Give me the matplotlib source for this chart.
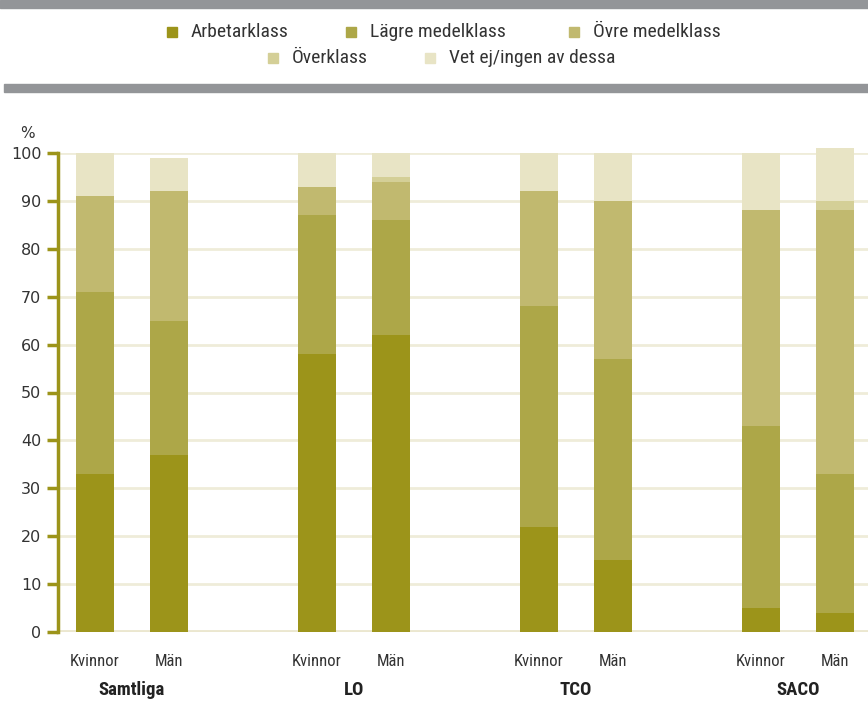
import numpy as np
import matplotlib.pyplot as plt
from matplotlib.patches import Rectangle
from matplotlib import font_manager

# Data (procent)
grupper = ['Samtliga', 'LO', 'TCO', 'SACO']
kon = ['Kvinnor', 'Män']
klasser = ['Arbetarklass', 'Lägre medelklass', 'Övre medelklass',
           'Överklass', 'Vet ej/ingen av dessa']

# ordning: Samtliga K, Samtliga M, LO K, LO M, TCO K, TCO M, SACO K, SACO M
arbetarklass = [33, 37, 58, 62, 22, 15, 5, 4]
lagre_medel = [38, 28, 29, 24, 46, 42, 38, 29]
ovre_medel = [20, 27, 6, 8, 24, 33, 45, 55]
overklass = [0, 0, 0, 1, 0, 0, 0, 2]
vet_ej = [9, 7, 7, 5, 8, 10, 12, 11]

farger = ['#9c941a', '#ada748', '#c1b96f', '#d4cf97', '#e8e4c5']
oliv = '#9c941a'
grid_farg = '#efecd9'
textfarg = '#333333'

# smalt typsnitt om det finns, annars Liberation Sans
namn_finns = {f.name for f in font_manager.fontManager.ttflist}
smal = [f for f in ['Liberation Sans Narrow', 'Roboto Condensed', 'Open Sans Condensed']
        if f in namn_finns] + ['Liberation Sans', 'DejaVu Sans']

serier = [arbetarklass, lagre_medel, ovre_medel, overklass, vet_ej]

# x-positioner: två staplar per grupp, en tom plats mellan grupper
x = np.array([g * 3 + k for g in range(len(grupper)) for k in range(len(kon))], dtype=float)

fig = plt.figure(figsize=(8.68, 7.02), dpi=100)
ax = fig.add_axes([58 / 868, 1 - 632 / 702, 1 - 58 / 868, (632 - 153) / 702])

botten = np.zeros(len(x))
for namn, varden, farg in zip(klasser, serier, farger):
    varden = np.array(varden, dtype=float)
    ax.bar(x, varden, bottom=botten, width=0.514, color=farg,
           linewidth=0, zorder=3, clip_on=False, label=namn)
    botten += varden

ax.set_xlim(-0.5, 10.446)
ax.set_ylim(0, 100)
ax.set_yticks(range(0, 101, 10))
ax.yaxis.grid(True, color=grid_farg, linewidth=2, zorder=0)
ax.axhline(0, color='#ebe7cf', linewidth=3.5, zorder=2)
ax.set_axisbelow(True)

for s in ['top', 'right', 'bottom']:
    ax.spines[s].set_visible(False)
ax.spines['left'].set_color(oliv)
ax.spines['left'].set_linewidth(2.5)
ax.spines['left'].set_zorder(4)
ax.tick_params(axis='y', length=8, width=2.5, color=oliv, labelsize=11.5,
               labelcolor=textfarg, pad=4)
ax.set_xticks([])

# stapeletiketter
for i, xi in enumerate(x):
    ax.text(xi, -6.2, kon[i % 2], ha='center', va='center', fontsize=12,
            color=textfarg, family=smal)
for g, namn in enumerate(grupper):
    ax.text(g * 3 + 0.5, -12.2, namn, ha='center', va='center', fontsize=13.5,
            fontweight='bold', color='#222222', family=smal)

fig.text(20 / 868, 1 - 134 / 702, '%', ha='left', va='center',
         fontsize=11, color=textfarg)

# grå linjer
fig.patches.append(Rectangle((0, 1 - 8 / 702), 1, 8 / 702, transform=fig.transFigure,
                             color='#939598', zorder=1))
fig.patches.append(Rectangle((4 / 868, 1 - 92 / 702), 1, 8 / 702, transform=fig.transFigure,
                             color='#939598', zorder=1))

# förklaring
poster = [(167, 32), (346, 32), (569, 32), (268, 58), (425, 58)]
for (px, py), namn, farg in zip(poster, klasser, farger):
    fig.patches.append(Rectangle((px / 868, 1 - (py + 5) / 702), 10 / 868, 10 / 702,
                                 transform=fig.transFigure, color=farg, zorder=1))
    fig.text((px + 24) / 868, 1 - py / 702, namn, ha='left', va='center',
             fontsize=14, color=textfarg, family=smal)

fig.savefig('out.png', dpi=100)
